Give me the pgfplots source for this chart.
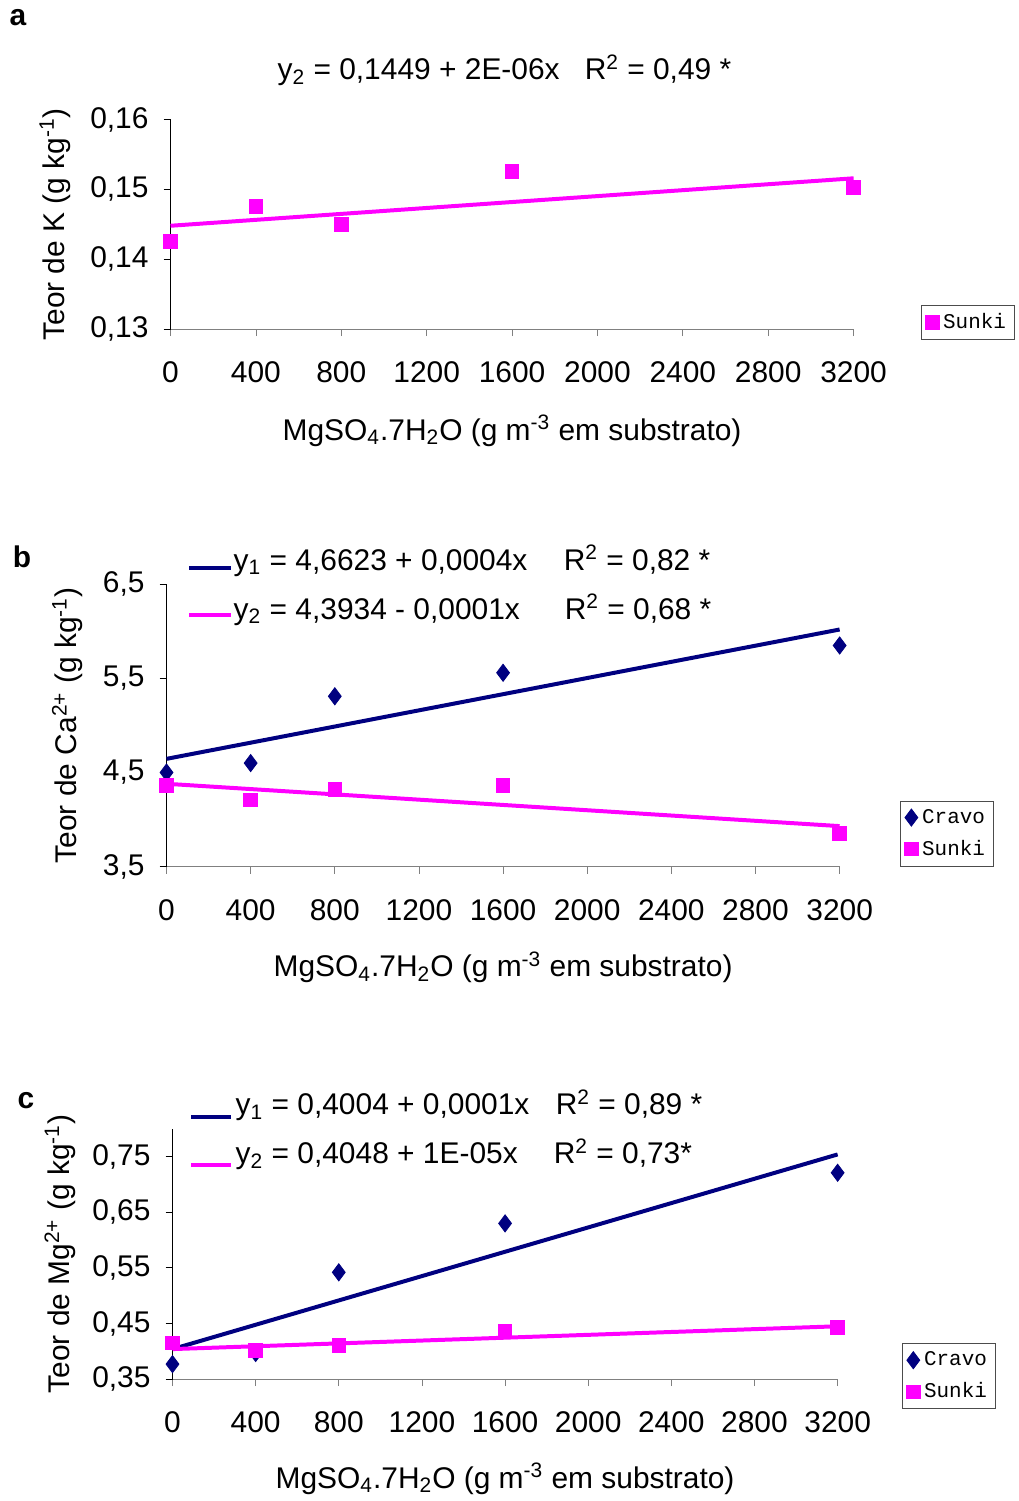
\documentclass[border=0pt]{standalone}
\usepackage{fontspec}
\setmainfont{Liberation Sans}
\newfontfamily\legfont{Liberation Mono}
\usepackage{pgfplots}
\pgfplotsset{compat=1.18}

\definecolor{navyb}{RGB}{0,0,128}
\definecolor{magb}{RGB}{255,0,255}

\newcommand{\fs}{\fontsize{15}{17}\selectfont}

\pgfplotsset{
  panel/.style={
    scale only axis,
    axis lines=left,
    axis line style={-},
    x axis line style={gray},
    y axis line style={black},
    x tick style={gray, thin},
    y tick style={black, thin},
    tick align=outside,
    major tick length=3.5pt,
    xmin=0, xmax=3200,
    xtick={0,400,...,3200},
    clip=false,
    scaled ticks=false,
    tick label style={font=\fs},
    label style={font=\fs},
    /pgf/number format/assume math mode=true,
    x tick label style={/pgf/number format/1000 sep={}, yshift=-9.5pt},
    y tick label style={/pgf/number format/.cd, fixed, fixed zerofill, use comma, /tikz/.cd, xshift=-4pt},
    xlabel={MgSO\textsubscript{4}.7H\textsubscript{2}O (g m\textsuperscript{-3} em substrato)},
    legend style={font=\legfont\fontsize{10.5}{12}\selectfont, draw=black!70,
      legend cell align=left, inner sep=2pt, row sep=3pt},
  },
  sunki/.style={only marks, mark=square*, mark size=3.4pt, color=magb,
    legend image code/.code={\draw[mark repeat=2,mark phase=2,##1] plot coordinates {(0cm,0cm)(0.2cm,0cm)(0.4cm,0cm)};}},
  cravo/.style={only marks, mark=diamond*, mark size=4.3pt, color=navyb,
    legend image code/.code={\draw[mark repeat=2,mark phase=2,##1] plot coordinates {(0cm,0cm)(0.2cm,0cm)(0.4cm,0cm)};}},
  trend/.style={no marks, line width=2pt, forget plot},
}

\begin{document}
\begin{tikzpicture}
\begin{scope}[x=0.5pt, y=-0.5pt]
  \useasboundingbox (0,0) rectangle (1021,1501);
  \coordinate (A) at (171,330);
  \coordinate (B) at (167,869);
  \coordinate (C) at (173,1383);

  % panel labels
  \node[font=\fs\bfseries] at (18,18) {a};
  \node[font=\fs\bfseries] at (22,558) {b};
  \node[font=\fs\bfseries] at (26,1104) {c};

  % equations, panel a
  \node[anchor=base west, inner sep=0, font=\fs] at (278,80) {y\textsubscript{2} = 0,1449 + 2E-06x};
  \node[anchor=base west, inner sep=0, font=\fs] at (586,80) {R\textsuperscript{2} = 0,49 *};

  % equations, panel b
  \draw[navyb, line width=2pt] (190,570) -- (232,570);
  \node[anchor=base west, inner sep=0, font=\fs] at (234,572) {y\textsubscript{1} = 4,6623 + 0,0004x};
  \node[anchor=base west, inner sep=0, font=\fs] at (565,572) {R\textsuperscript{2} = 0,82 *};
  \draw[magb, line width=2pt] (190,617) -- (232,617);
  \node[anchor=base west, inner sep=0, font=\fs] at (234,621) {y\textsubscript{2} = 4,3934 - 0,0001x};
  \node[anchor=base west, inner sep=0, font=\fs] at (566,621) {R\textsuperscript{2} = 0,68 *};

  % equations, panel c
  \draw[navyb, line width=2pt] (192,1120) -- (232,1120);
  \node[anchor=base west, inner sep=0, font=\fs] at (236,1118) {y\textsubscript{1} = 0,4004 + 0,0001x};
  \node[anchor=base west, inner sep=0, font=\fs] at (557,1118) {R\textsuperscript{2} = 0,89 *};
  \draw[magb, line width=2pt] (192,1168) -- (232,1168);
  \node[anchor=base west, inner sep=0, font=\fs] at (236,1167) {y\textsubscript{2} = 0,4048 + 1E-05x};
  \node[anchor=base west, inner sep=0, font=\fs] at (555,1167) {R\textsuperscript{2} = 0,73*};
\end{scope}

% ---------- a ----------
\begin{axis}[panel, at={(A)}, anchor=south west,
  width=342.5pt, height=105pt,
  ymin=0.13, ymax=0.16, ytick={0.13,0.14,0.15,0.16},
  y tick label style={/pgf/number format/precision=2},
  ylabel={Teor de K (g kg\textsuperscript{-1})},
  xlabel style={at={(axis description cs:0.5,-0.486)}, anchor=center},
  ylabel style={at={(axis description cs:-0.169,0.5)}, anchor=center},
  legend style={at={(axis description cs:1.099,0.114)}, anchor=north west},
]
\addplot[trend, magb] coordinates {(0,0.1448) (3200,0.1516)};
\addplot[sunki] coordinates {(0,0.1426) (400,0.1476) (800,0.1450) (1600,0.1526) (3200,0.1503)};
\addlegendentry{Sunki}
\end{axis}

% ---------- b ----------
\begin{axis}[panel, at={(B)}, anchor=south west,
  width=337.5pt, height=141.5pt,
  ymin=3.5, ymax=6.5, ytick={3.5,4.5,5.5,6.5},
  y tick label style={/pgf/number format/precision=1},
  ylabel={Teor de Ca\textsuperscript{2+} (g kg\textsuperscript{-1})},
  xlabel style={at={(axis description cs:0.5,-0.357)}, anchor=center},
  ylabel style={at={(axis description cs:-0.147,0.5)}, anchor=center},
  legend style={at={(axis description cs:1.09,0)}, anchor=south west},
]
\addplot[trend, navyb] coordinates {(0,4.645) (3200,6.02)};
\addplot[trend, magb] coordinates {(0,4.38) (3200,3.93)};
\addplot[cravo] coordinates {(0,4.50) (400,4.60) (800,5.31) (1600,5.56) (3200,5.85)};
\addlegendentry{Cravo}
\addplot[sunki] coordinates {(0,4.36) (400,4.21) (800,4.32) (1600,4.36) (3200,3.85)};
\addlegendentry{Sunki}
\end{axis}

% ---------- c ----------
\begin{axis}[panel, at={(C)}, anchor=south west,
  width=333.5pt, height=125.5pt,
  ymin=0.35, ymax=0.80, ytick={0.35,0.45,0.55,0.65,0.75},
  y tick label style={/pgf/number format/precision=2},
  ylabel={Teor de Mg\textsuperscript{2+} (g kg\textsuperscript{-1})},
  xlabel style={at={(axis description cs:0.5,-0.398)}, anchor=center},
  ylabel style={at={(axis description cs:-0.169,0.5)}, anchor=center},
  legend style={at={(axis description cs:1.097,0.143)}, anchor=north west},
]
\addplot[trend, navyb] coordinates {(0,0.404) (3200,0.754)};
\addplot[trend, magb] coordinates {(0,0.404) (3200,0.445)};
\addplot[cravo] coordinates {(0,0.377) (400,0.397) (800,0.542) (1600,0.630) (3200,0.721)};
\addlegendentry{Cravo}
\addplot[sunki] coordinates {(0,0.415) (400,0.402) (800,0.411) (1600,0.436) (3200,0.443)};
\addlegendentry{Sunki}
\end{axis}
\end{tikzpicture}
\end{document}
